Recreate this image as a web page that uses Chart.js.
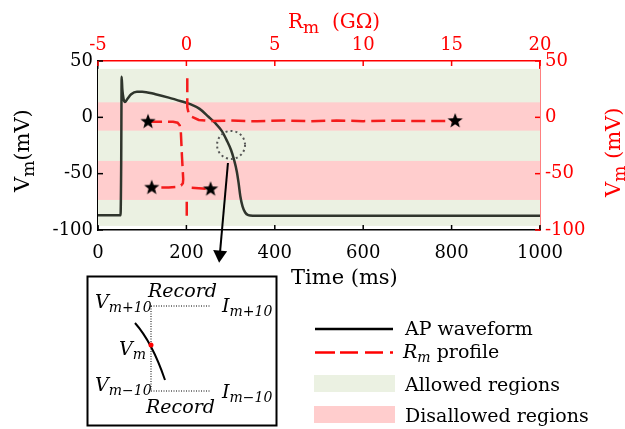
<!DOCTYPE html>
<html>
<head>
  <meta charset="UTF-8">
  <title>AP waveform and Rm profile</title>
  <script src="https://cdn.jsdelivr.net/npm/chart.js"></script>
  <style>
    * { margin: 0; padding: 0; box-sizing: border-box; }
    body { width: 625px; height: 429px; overflow: hidden; background: #fff; }
    #wrap { position: relative; width: 625px; height: 429px; }
    #chart, #overlay { position: absolute; left: 0; top: 0; }
    #overlay { pointer-events: none; font-family: "DejaVu Serif", serif; }
    #overlay text { white-space: pre; }
    .it { font-style: italic; }
  </style>
</head>
<body>
  <div id="wrap">
    <canvas id="chart" width="625" height="429"></canvas>
    <svg id="overlay" width="625" height="429" xmlns="http://www.w3.org/2000/svg">
      <!-- axis titles -->
      <text x="291" y="284" font-size="21">Time (ms)</text>
      <text x="288" y="28" font-size="20" fill="#ff0000">R<tspan dy="5" font-size="17">m</tspan><tspan dy="-5">  (GΩ)</tspan></text>
      <text transform="translate(29,192) rotate(-90)" font-size="21">V<tspan dy="5" font-size="17">m</tspan><tspan dy="-5">(mV)</tspan></text>
      <text transform="translate(620,197) rotate(-90)" font-size="21" fill="#ff0000">V<tspan dy="5" font-size="17">m</tspan><tspan dy="-5"> (mV)</tspan></text>

      <!-- inset -->
      <rect x="87.5" y="276.5" width="189" height="149" fill="#fff" stroke="#000" stroke-width="2"/>
      <path d="M151,306 V391 M151,306 H211 M151,391 H211" stroke="#000" stroke-width="1" stroke-dasharray="1 1.5" fill="none"/>
      <path d="M135,323 Q152,342 165,380" stroke="#000" stroke-width="2" fill="none"/>
      <circle cx="151" cy="345" r="2.5" fill="#ff0000"/>
      <g class="it" font-size="19">
        <text x="148" y="297">Record</text>
        <text x="146" y="413">Record</text>
        <text x="95" y="308">V<tspan dy="4" font-size="14">m+10</tspan></text>
        <text x="222" y="312">I<tspan dy="4" font-size="14">m+10</tspan></text>
        <text x="119" y="355">V<tspan dy="4" font-size="14">m</tspan></text>
        <text x="95" y="391">V<tspan dy="4" font-size="14">m−10</tspan></text>
        <text x="222" y="398">I<tspan dy="4" font-size="14">m−10</tspan></text>
      </g>

      <!-- legend -->
      <line x1="315" y1="329" x2="393" y2="329" stroke="#000" stroke-width="2.5"/>
      <line x1="315" y1="352.5" x2="393" y2="352.5" stroke="#ff0000" stroke-width="2.5" stroke-dasharray="20 5 18 7 18 7 3"/>
      <rect x="314" y="375" width="81" height="17" fill="#ebf1e2"/>
      <rect x="314" y="406" width="81" height="17" fill="#ffcdcd"/>
      <g font-size="19">
        <text x="405" y="335">AP waveform</text>
        <text x="403" y="358"><tspan class="it">R</tspan><tspan class="it" dy="4" font-size="14">m</tspan><tspan dy="-4"> profile</tspan></text>
        <text x="405" y="391">Allowed regions</text>
        <text x="405" y="422">Disallowed regions</text>
      </g>
    </svg>
  </div>

  <script>
    // --- AP waveform (time ms vs Vm mV, bottom/left axes) ---
    const timeMs = [0, 51, 52.5, 53.5, 55, 58, 61, 66, 75, 88, 100, 130, 160, 190, 210, 230, 250, 265, 280, 292, 301, 308, 314, 318, 322, 327, 333, 340, 350, 1000];
    const apVm   = [-87, -87, -40, 36, 25, 16, 13.5, 16, 20.5, 22.8, 22.8, 20.5, 17.5, 14, 11.5, 7.5, 0.5, -5, -12, -21, -29, -38, -48, -58, -70, -79, -84.5, -86.8, -87.3, -87.3];

    // --- Rm profile (Rm GOhm vs Vm mV, top/right axes), null = break ---
    const rmGohm = [0.05, 0.05, 0.12, 0.3, 0.7, 1.3, 2.5, 4, 5.5, 7, 8.5, 10, 11.5, 13, 15.2, null,
                    -2.17, -0.75, -0.5, -0.38, -0.32, -0.25, -0.18, -0.2, -0.3, -0.55, -1.0, -1.96, null,
                    0.3, 0.9, 1.37, null,
                    0.02, 0.02];
    const rmVm   = [34.6, 9, 4, 0.5, -2.3, -3.2, -2.9, -3.5, -2.8, -3.4, -2.8, -3.4, -2.9, -3.3, -3.2, null,
                    -3.9, -3.9, -4.8, -7, -11, -35, -55, -58.5, -60.5, -61.8, -62.3, -62.4, null,
                    -62.5, -63.2, -63.8, null,
                    -75, -88];

    // stars at the ends of the Rm branches
    const starRm = [-2.17, 15.2, -1.96, 1.37];
    const starVm = [-3.9, -3.2, -62.4, -63.8];

    // allowed / disallowed Vm bands (mV)
    const allowedBands    = [[43, -96.4]];
    const disallowedBands = [[13.3, -11.8], [-38.7, -73.3]];

    // zoom marker on the AP downstroke and arrow to the inset
    const circleAt = { t: 301, v: -24.5 };
    const arrowFrom = { t: 294, v: -40.5 };
    const arrowTo   = { t: 274, v: -129 };

    const timeTicks = [0, 200, 400, 600, 800, 1000];
    const rmTicks   = [-5, 0, 5, 10, 15, 20];
    const vmTicks   = [-100, -50, 0, 50];

    const RED = '#ff0000';
    const tickFont = { family: 'DejaVu Serif', size: 18 };

    // filled 5-point star for markers
    function makeStar(r) {
      const c = document.createElement('canvas');
      c.width = c.height = r * 2 + 2;
      const g = c.getContext('2d');
      g.beginPath();
      for (let i = 0; i < 10; i++) {
        const rad = i % 2 === 0 ? r : r * 0.42;
        const a = -Math.PI / 2 + i * Math.PI / 5;
        g.lineTo(r + 1 + rad * Math.cos(a), r + 1 + rad * Math.sin(a));
      }
      g.closePath();
      g.fillStyle = '#000';
      g.fill();
      return c;
    }
    const star = makeStar(8);

    const axis = (min, max, ticks, position, color, padding, size) => ({
      type: 'linear',
      position,
      min, max,
      afterBuildTicks: (s) => { s.ticks = ticks.map(v => ({ value: v })); },
      afterFit: (s) => {
        if (position === 'top' || position === 'bottom') s.height = size;
        else s.width = size;
      },
      grid: { display: false, drawTicks: false },
      border: { display: true, color, width: 1.5 },
      ticks: { color, font: tickFont, padding, maxRotation: 0, autoSkip: false, callback: (v) => String(v) },
    });

    // bands under the lines, inward ticks, circle and arrow on top
    const extras = {
      id: 'extras',
      beforeDatasetsDraw(chart) {
        const { ctx, chartArea: a, scales: { y } } = chart;
        ctx.save();
        const band = (b, col) => {
          const top = y.getPixelForValue(b[0]), bot = y.getPixelForValue(b[1]);
          ctx.fillStyle = col;
          ctx.fillRect(a.left, top, a.right - a.left, bot - top);
        };
        allowedBands.forEach(b => band(b, '#ebf1e2'));
        disallowedBands.forEach(b => band(b, '#ffcdcd'));
        ctx.restore();
      },
      afterDatasetsDraw(chart) {
        const { ctx, scales: { x, y } } = chart;
        ctx.save();
        // dotted circle
        ctx.beginPath();
        ctx.setLineDash([2, 3]);
        ctx.lineWidth = 2;
        ctx.strokeStyle = '#555';
        ctx.arc(x.getPixelForValue(circleAt.t), y.getPixelForValue(circleAt.v), 14, 0, Math.PI * 2);
        ctx.stroke();
        // arrow
        ctx.setLineDash([]);
        const x0 = x.getPixelForValue(arrowFrom.t), y0 = y.getPixelForValue(arrowFrom.v);
        const x1 = x.getPixelForValue(arrowTo.t), y1 = y.getPixelForValue(arrowTo.v);
        const ang = Math.atan2(y1 - y0, x1 - x0);
        ctx.strokeStyle = '#000';
        ctx.lineWidth = 2;
        ctx.beginPath();
        ctx.moveTo(x0, y0);
        ctx.lineTo(x1 - 8 * Math.cos(ang), y1 - 8 * Math.sin(ang));
        ctx.stroke();
        ctx.fillStyle = '#000';
        ctx.beginPath();
        ctx.moveTo(x1, y1);
        ctx.lineTo(x1 - 12 * Math.cos(ang) + 7 * Math.sin(ang), y1 - 12 * Math.sin(ang) - 7 * Math.cos(ang));
        ctx.lineTo(x1 - 12 * Math.cos(ang) - 7 * Math.sin(ang), y1 - 12 * Math.sin(ang) + 7 * Math.cos(ang));
        ctx.closePath();
        ctx.fill();
        // inward tick marks
        const tk = 5;
        const drawTicks = (s, col) => {
          ctx.strokeStyle = col;
          ctx.lineWidth = 1.5;
          s.ticks.forEach(t => {
            const p = s.getPixelForValue(t.value);
            ctx.beginPath();
            if (s.position === 'bottom') { ctx.moveTo(p, s.top); ctx.lineTo(p, s.top - tk); }
            if (s.position === 'top')    { ctx.moveTo(p, s.bottom); ctx.lineTo(p, s.bottom + tk); }
            if (s.position === 'left')   { ctx.moveTo(s.right, p); ctx.lineTo(s.right + tk, p); }
            if (s.position === 'right')  { ctx.moveTo(s.left, p); ctx.lineTo(s.left - tk, p); }
            ctx.stroke();
          });
        };
        drawTicks(chart.scales.x, '#000');
        drawTicks(chart.scales.y, '#000');
        drawTicks(chart.scales.x2, RED);
        drawTicks(chart.scales.y2, RED);
        ctx.restore();
      }
    };

    new Chart(document.getElementById('chart'), {
      type: 'line',
      data: {
        datasets: [
          {
            label: 'Stars',
            data: starRm.map((r, i) => ({ x: r, y: starVm[i] })),
            xAxisID: 'x2', yAxisID: 'y2',
            showLine: false,
            pointStyle: star,
            pointRadius: 8,
          },
          {
            label: 'Rm profile',
            data: rmGohm.map((r, i) => ({ x: r, y: rmVm[i] })),
            xAxisID: 'x2', yAxisID: 'y2',
            borderColor: '#f41c1c',
            borderWidth: 2.5,
            borderDash: [14, 6],
            pointRadius: 0,
            spanGaps: false,
            tension: 0,
          },
          {
            label: 'AP waveform',
            data: timeMs.map((t, i) => ({ x: t, y: apVm[i] })),
            xAxisID: 'x', yAxisID: 'y',
            borderColor: '#2f352c',
            borderWidth: 2.5,
            pointRadius: 0,
            cubicInterpolationMode: 'monotone',
          },
        ]
      },
      options: {
        responsive: false,
        animation: false,
        layout: { padding: 0 },
        plugins: { legend: { display: false }, tooltip: { enabled: false } },
        scales: {
          x:  axis(0, 1000, timeTicks, 'bottom', '#000', 13, 199),
          x2: axis(-5, 20, rmTicks, 'top', RED, 5, 61),
          y:  axis(-100, 50, vmTicks, 'left', '#000', 5, 98),
          y2: axis(-100, 50, vmTicks, 'right', RED, 5, 85),
        }
      },
      plugins: [extras]
    });
  </script>
</body>
</html>
